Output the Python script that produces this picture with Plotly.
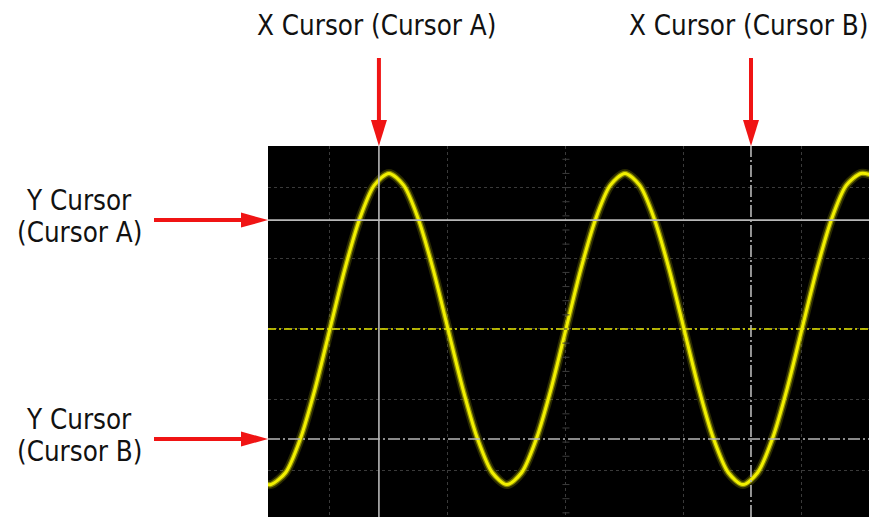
import numpy as np
import plotly.graph_objects as go

# ---- data (in screen divisions) ----
wave_x = [-2.55, -2.5, -2.375, -2.25, -2.125, -2.0, -1.875, -1.75, -1.625, -1.5, -1.375,
          -1.25, -1.125, -1.0, -0.875, -0.75, -0.625, -0.5, -0.375, -0.25, -0.125,
          0.0, 0.125, 0.25, 0.375, 0.5, 0.625, 0.75, 0.875, 1.0, 1.125,
          1.25, 1.375, 1.5, 1.625, 1.75, 1.875, 2.0, 2.125, 2.25, 2.375, 2.5, 2.6]
wave_y = [-2.19, -2.2, -2.03, -1.55, -0.84, 0.0, 0.84, 1.55, 2.03, 2.2, 2.03,
          1.55, 0.84, 0.0, -0.84, -1.55, -2.03, -2.2, -2.03, -1.55, -0.84,
          0.0, 0.84, 1.55, 2.03, 2.2, 2.03, 1.55, 0.84, 0.0, -0.84,
          -1.55, -2.03, -2.2, -2.03, -1.55, -0.84, 0.0, 0.84, 1.55, 2.03, 2.2, 2.17]

x_cursor_a = -1.585
x_cursor_b = 1.568
y_cursor_a = 1.54
y_cursor_b = -1.556
trigger_level = 0.0

x_range = [-2.525, 2.568]
y_range = [-2.659, 2.588]

label_xa = "X Cursor (Cursor A)"
label_xb = "X Cursor (Cursor B)"
label_ya = ["Y Cursor", "(Cursor A)"]
label_yb = ["Y Cursor", "(Cursor B)"]

FONT = "DejaVu Sans Condensed"
FSIZE = 27.5
RED = "#f01414"
CURSOR_GRAY = "#b8b8b8"

fig = go.Figure()

# glow layers + core of the trace
for w, c in [(9, "rgba(190,190,0,0.22)"), (5.5, "rgba(225,225,0,0.5)"), (3, "#f2f000")]:
    fig.add_trace(go.Scatter(x=wave_x, y=wave_y, mode="lines",
                             line=dict(color=c, width=w, shape="spline", smoothing=0.8),
                             hoverinfo="skip", showlegend=False))

# small tick marks on the centre vertical axis
ty = np.arange(-2.6, 2.61, 0.2)
fig.add_trace(go.Scatter(x=[0] * len(ty), y=ty, mode="markers",
                         marker=dict(symbol="line-ew", size=5, line=dict(color="#3c3c3c", width=1)),
                         hoverinfo="skip", showlegend=False))

def px_x(v):
    return (v - x_range[0]) / (x_range[1] - x_range[0])

def px_y(v):
    return (v - y_range[0]) / (y_range[1] - y_range[0])

shapes = []
# trigger level line (yellow dash-dot)
shapes.append(dict(type="line", xref="paper", yref="y", x0=0, x1=1, y0=trigger_level, y1=trigger_level,
                   line=dict(color="#e8e800", width=1.5, dash="8px,3px,2px,3px"), layer="above"))
# cursors
shapes.append(dict(type="line", xref="x", yref="paper", x0=x_cursor_a, x1=x_cursor_a, y0=0, y1=1,
                   line=dict(color=CURSOR_GRAY, width=1.6), layer="above"))
shapes.append(dict(type="line", xref="x", yref="paper", x0=x_cursor_b, x1=x_cursor_b, y0=0, y1=1,
                   line=dict(color=CURSOR_GRAY, width=1.6, dash="12px,3px,2px,3px"), layer="above"))
shapes.append(dict(type="line", xref="paper", yref="y", x0=0, x1=1, y0=y_cursor_a, y1=y_cursor_a,
                   line=dict(color=CURSOR_GRAY, width=1.6), layer="above"))
shapes.append(dict(type="line", xref="paper", yref="y", x0=0, x1=1, y0=y_cursor_b, y1=y_cursor_b,
                   line=dict(color=CURSOR_GRAY, width=1.6, dash="12px,3px,2px,3px"), layer="above"))

# red arrows for X cursors (pointing down onto the plot top)
for xc in [x_cursor_a, x_cursor_b]:
    xa = px_x(xc)
    shapes.append(dict(type="line", xref="paper", yref="paper", xsizemode="pixel", ysizemode="pixel",
                       xanchor=xa, yanchor=1, x0=0, x1=0, y0=88, y1=20,
                       line=dict(color=RED, width=4)))
    shapes.append(dict(type="path", xref="paper", yref="paper", xsizemode="pixel", ysizemode="pixel",
                       xanchor=xa, yanchor=1, path="M -8,26 L 8,26 L 0,0 Z",
                       fillcolor=RED, line=dict(color=RED, width=0)))
# red arrows for Y cursors (pointing right onto the plot left edge)
for yc in [y_cursor_a, y_cursor_b]:
    ya = px_y(yc)
    shapes.append(dict(type="line", xref="paper", yref="paper", xsizemode="pixel", ysizemode="pixel",
                       xanchor=0, yanchor=ya, x0=-114, x1=-20, y0=0, y1=0,
                       line=dict(color=RED, width=4)))
    shapes.append(dict(type="path", xref="paper", yref="paper", xsizemode="pixel", ysizemode="pixel",
                       xanchor=0, yanchor=ya, path="M -27,7.5 L -27,-7.5 L 0,0 Z",
                       fillcolor=RED, line=dict(color=RED, width=0)))

annotations = []
def add_text(text, xref, x, yref, y, xshift, yshift):
    annotations.append(dict(text=text, xref=xref, x=x, yref=yref, y=y, xanchor="center", yanchor="middle",
                            xshift=xshift, yshift=yshift, showarrow=False,
                            font=dict(family=FONT, size=FSIZE, color="#111111")))

add_text(label_xa, "x", x_cursor_a, "paper", 1, -2, 121)
add_text(label_xb, "x", x_cursor_b, "paper", 1, -2, 121)
add_text(label_ya[0], "paper", 0, "y", y_cursor_a, -189, 20)
add_text(label_ya[1], "paper", 0, "y", y_cursor_a, -189, -12)
add_text(label_yb[0], "paper", 0, "y", y_cursor_b, -189, 20)
add_text(label_yb[1], "paper", 0, "y", y_cursor_b, -189, -12)

grid = dict(showgrid=True, gridcolor="#3a3a3a", griddash="dot", gridwidth=1, dtick=1, tick0=0,
            showticklabels=False, zeroline=False, showline=False, ticks="", fixedrange=True)

fig.update_layout(
    width=873, height=517,
    margin=dict(l=268, r=4, t=146, b=0),
    paper_bgcolor="white", plot_bgcolor="black",
    xaxis=dict(range=x_range, **grid),
    yaxis=dict(range=y_range, **grid),
    shapes=shapes, annotations=annotations,
    showlegend=False,
)

fig.write_html("out.html", config={"displayModeBar": False},
               post_script="document.body.style.margin='0';document.body.style.overflow='hidden';")
